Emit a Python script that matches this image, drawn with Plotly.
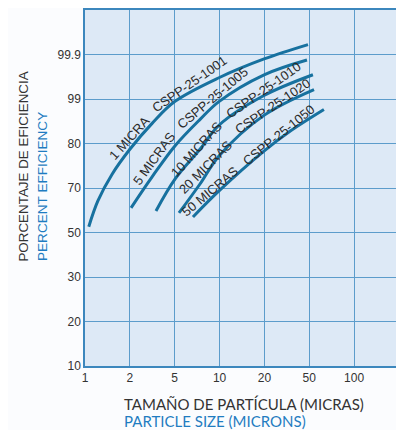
import numpy as np
import plotly.graph_objects as go

# ---- axis tick definitions (grid positions are equally spaced) ----
X_TICK_VALUES = [1, 2, 5, 10, 20, 50, 100]
X_TICK_TEXT = ["1", "2", "5", "10", "20", "50", "100"]
X_EDGE = 200          # unlabeled right-edge gridline
Y_TICK_VALUES = [10, 20, 30, 50, 70, 80, 99, 99.9]
Y_TICK_TEXT = ["10", "20", "30", "50", "70", "80", "99", "99.9"]
Y_EDGE = 99.99        # unlabeled top-edge gridline

# ---- series: particle size (microns) vs efficiency (%) ----
names = ["CSPP-25-1001", "CSPP-25-1005", "CSPP-25-1010", "CSPP-25-1020", "CSPP-25-1050"]
x_1001 = [1.06, 1.22, 1.52, 2.0, 3.15, 5.0, 9.9, 19.9, 48.7]
y_1001 = [52.6, 64.2, 73.1, 78.7, 88.6, 97.9, 99.43, 99.81, 99.92]
x_1005 = [2.05, 3.15, 5.0, 7.4, 9.9, 19.9, 47.7]
y_1005 = [61.1, 72.5, 79.4, 90.3, 97.9, 99.49, 99.79]
x_1010 = [3.41, 5.02, 7.39, 9.91, 19.86, 52.9]
y_1010 = [59.7, 72.0, 78.7, 87.8, 99.07, 99.49]
x_1020 = [5.34, 7.39, 9.91, 19.86, 53.8]
y_1020 = [58.8, 70.9, 77.2, 92.0, 99.19]
x_1050 = [6.63, 9.91, 19.86, 33.7, 62.7]
y_1050 = [57.0, 68.7, 78.3, 85.2, 94.5]

label_micra = ["1 MICRA", "5 MICRAS", "10 MICRAS", "20 MICRAS", "50 MICRAS"]

series_x = [x_1001, x_1005, x_1010, x_1020, x_1050]
series_y = [y_1001, y_1005, y_1010, y_1020, y_1050]

X_GRID = X_TICK_VALUES + [X_EDGE]
Y_GRID = Y_TICK_VALUES + [Y_EDGE]


def to_gx(v):
    return np.interp(np.log10(np.asarray(v, float)), np.log10(X_GRID), np.arange(len(X_GRID)))


def to_gy(v):
    return np.interp(np.asarray(v, float), Y_GRID, np.arange(len(Y_GRID)))


# page has an 8px body margin; figure sized to fit the 404x430 window
OFF = 8
W, H = 404 - OFF, 430 - OFF
PL, PT, PR, PB = 85, 8, 399, 366          # plot area in page pixels
L, T = PL - OFF, PT - OFF
R, B = (OFF + W) - PR, (OFF + H) - PB
PW, PH = PR - PL, PB - PT


def pxx(px):
    return (px - PL) / PW


def pxy(py):
    return (PB - py) / PH


CURVE = "#17719f"
GRID = "#5c9ccb"
AXIS = "#3c87bd"
TXT = "#333333"
BLUE = "#1f7cc1"

fig = go.Figure()
for nm, xs, ys in zip(names, series_x, series_y):
    fig.add_trace(go.Scatter(
        x=to_gx(xs), y=to_gy(ys), mode="lines", name=nm,
        line=dict(color=CURVE, width=3, shape="spline", smoothing=1.0),
        hoverinfo="skip", showlegend=False))

# label placements: (center px x, center px y, angle) for MICRA part and CSPP part
label_pos = [
    ((129, 137, -48), (189, 83, -35)),
    ((154, 157, -54), (212, 97, -40)),
    ((196, 148, -48), (263, 89, -35)),
    ((205, 166, -45), (272, 105, -34)),
    ((210, 191, -40), (278, 134, -39)),
]
ann = []
for mic, nm, (p1, p2) in zip(label_micra, names, label_pos):
    for txt, (cx, cy, ang) in ((mic, p1), (nm, p2)):
        ann.append(dict(text=txt, x=pxx(cx), y=pxy(cy), xref="paper", yref="paper",
                        xanchor="center", yanchor="middle", textangle=ang, showarrow=False,
                        font=dict(family="Liberation Sans, Arial", size=13, color="#2b2b2b")))

# axis titles
ann.append(dict(text="PORCENTAJE DE EFICIENCIA", x=pxx(24), y=pxy(263), xref="paper", yref="paper",
                textangle=-90, showarrow=False, xanchor="center", yanchor="bottom",
                font=dict(family="Liberation Sans, Arial", size=13.4, color=TXT)))
ann.append(dict(text="PERCENT EFFICIENCY", x=pxx(42), y=pxy(263), xref="paper", yref="paper",
                textangle=-90, showarrow=False, xanchor="center", yanchor="bottom",
                font=dict(family="Liberation Sans, Arial", size=13.6, color=BLUE)))
ann.append(dict(text="TAMAÑO DE PARTÍCULA (MICRAS)", x=pxx(122), y=pxy(404), xref="paper", yref="paper",
                showarrow=False, xanchor="left", yanchor="middle",
                font=dict(family="Lato, Open Sans", size=15, color=TXT)))
ann.append(dict(text="PARTICLE SIZE (MICRONS)", x=pxx(122), y=pxy(421), xref="paper", yref="paper",
                showarrow=False, xanchor="left", yanchor="middle",
                font=dict(family="Lato, Open Sans", size=15, color=BLUE)))

axis_common = dict(showgrid=True, gridcolor=GRID, gridwidth=1.3, zeroline=False,
                   showline=True, mirror=True, linecolor=AXIS, linewidth=1.5,
                   ticks="", tickfont=dict(family="Liberation Sans, Arial", size=12, color=TXT),
                   fixedrange=True)

fig.update_layout(
    width=W, height=H, margin=dict(l=L, r=R, t=T, b=B, pad=0),
    paper_bgcolor="#fbfcfe", plot_bgcolor="#dde9f6",
    xaxis=dict(range=[0, len(X_GRID) - 1], tickmode="array",
               tickvals=list(range(len(X_GRID))), ticktext=X_TICK_TEXT + [""], **axis_common),
    yaxis=dict(range=[0, len(Y_GRID) - 1], tickmode="array",
               tickvals=list(range(len(Y_GRID))), ticktext=Y_TICK_TEXT + [""], **axis_common),
    annotations=ann,
)

fig.write_html("out.html")
